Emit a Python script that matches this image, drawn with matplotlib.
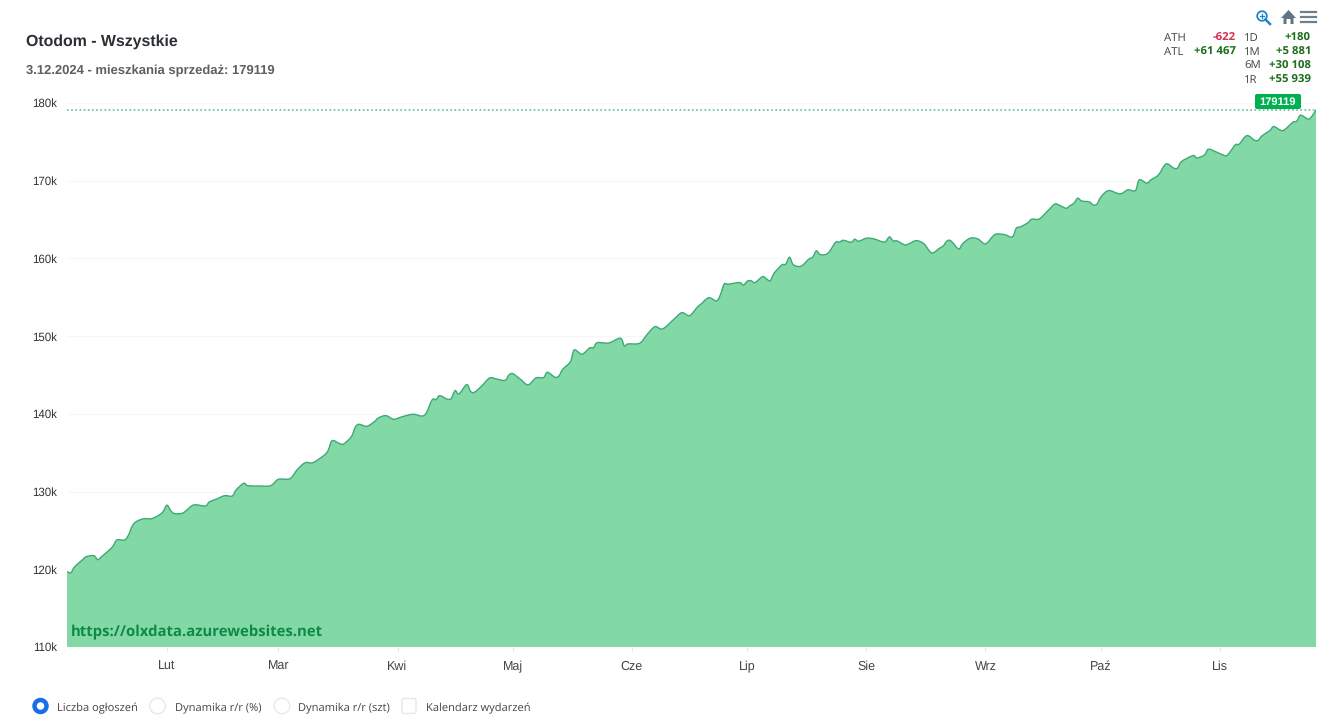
"""Otodom - Wszystkie: liczba ogloszen mieszkan na sprzedaz, 2024."""
import matplotlib
matplotlib.use('Agg')
import matplotlib.pyplot as plt
from matplotlib.patches import Circle, FancyBboxPatch, PathPatch, Polygon
from matplotlib.path import Path

# ── Data (day of year 2024, offers in thousands) ───────────────────────────
DAYS = [6, 7, 8, 10, 11, 13, 14, 15, 17, 18, 19, 21, 22, 23, 24, 26, 28, 30, 31, 32,
        33, 34, 36, 37, 39, 42, 43, 45, 47, 49, 50, 52, 53, 56, 59, 61, 64, 66, 68, 70,
        73, 74, 75, 77, 78, 80, 81, 82, 84, 86, 87, 89, 91, 93, 96, 99, 101, 102, 103, 105,
        106, 107, 108, 110, 111, 112, 114, 116, 118, 120, 121, 122, 124, 126, 128, 130, 131, 133, 134, 135,
        137, 138, 140, 142, 143, 144, 147, 150, 151, 152, 155, 157, 159, 161, 164, 166, 168, 170, 171, 173,
        175, 176, 177, 178, 181, 182, 183, 184, 185, 187, 188, 189, 190, 192, 193, 194, 195, 197, 199, 200,
        201, 202, 204, 206, 207, 208, 210, 211, 212, 214, 216, 218, 219, 220, 221, 222, 224, 225, 227, 229,
        231, 233, 234, 235, 236, 238, 239, 241, 243, 245, 247, 248, 250, 252, 253, 254, 256, 257, 259, 261,
        263, 264, 266, 267, 268, 269, 270, 272, 273, 274, 275, 277, 280, 282, 284, 285, 287, 288, 290, 292,
        294, 295, 296, 299, 300, 302, 303, 305, 307, 308, 310, 311, 313, 315, 316, 317, 319, 320, 322, 323,
        325, 326, 327, 329, 330, 331]
OFFERS = [119.69, 119.56, 120.33, 121.20, 121.62, 121.75, 121.24, 121.62, 122.48, 123.00,
          123.77, 123.77, 124.41, 125.57, 126.13, 126.51, 126.51, 126.99, 127.41, 128.24,
          127.54, 127.16, 127.21, 127.54, 128.28, 128.15, 128.66, 129.05, 129.47, 129.43,
          130.21, 131.07, 130.76, 130.72, 130.76, 131.58, 131.66, 132.87, 133.72, 133.72,
          134.71, 135.35, 136.55, 136.16, 136.13, 137.07, 138.28, 138.66, 138.40, 139.00,
          139.47, 139.77, 139.30, 139.60, 139.95, 139.82, 141.79, 141.83, 142.34, 141.88,
          142.00, 142.99, 142.56, 143.76, 142.91, 142.78, 143.63, 144.62, 144.45, 144.32,
          145.00, 145.17, 144.45, 143.72, 144.62, 144.66, 145.35, 144.71, 144.88, 145.74,
          146.72, 148.22, 147.67, 148.48, 148.52, 149.16, 149.12, 149.73, 148.74, 149.00,
          149.09, 150.24, 151.22, 150.93, 152.21, 153.02, 152.64, 153.72, 154.14, 154.95,
          154.53, 155.30, 156.70, 156.68, 156.89, 156.55, 157.07, 157.14, 156.89, 157.66,
          157.36, 157.14, 158.10, 159.16, 159.25, 160.15, 159.20, 159.00, 159.90, 160.15,
          160.97, 160.49, 160.67, 162.08, 162.08, 162.34, 162.08, 162.47, 162.21, 162.60,
          162.51, 162.16, 162.16, 162.77, 162.25, 162.25, 161.74, 161.87, 162.29, 161.87,
          160.71, 161.31, 161.61, 162.25, 162.25, 161.22, 161.87, 162.60, 162.51, 161.87,
          162.90, 163.15, 163.06, 162.77, 163.89, 164.05, 164.57, 165.04, 165.08, 166.02,
          166.98, 166.89, 166.46, 166.80, 167.10, 167.75, 167.40, 167.27, 166.89, 166.98,
          167.88, 168.73, 168.30, 168.82, 168.73, 170.10, 169.68, 170.10, 170.75, 172.16,
          171.61, 171.65, 172.46, 173.23, 172.93, 173.32, 174.05, 173.71, 173.28, 173.32,
          174.61, 174.70, 175.80, 175.21, 175.21, 175.80, 176.45, 176.96, 176.45, 176.63,
          177.53, 177.66, 178.43, 177.92, 178.34, 179.119]
LAST_VALUE = 179119

MONTH_DAYS = [32, 61, 92, 122, 153, 183, 214, 245, 275, 306]
MONTH_LABELS = ['Lut', 'Mar', 'Kwi', 'Maj', 'Cze', 'Lip', 'Sie', 'Wrz', 'Paź', 'Lis']
Y_TICKS = [110, 120, 130, 140, 150, 160, 170, 180]

STATS_LEFT = [('ATH', '-622', '#d9314f'), ('ATL', '+61 467', '#1b6e1b')]
STATS_RIGHT = [('1D', '+180'), ('1M', '+5 881'), ('6M', '+30 108'), ('1R', '+55 939')]
OPTIONS = ['Liczba ogłoszeń', 'Dynamika r/r (%)', 'Dynamika r/r (szt)', 'Kalendarz wydarzeń']

# ── Style ──────────────────────────────────────────────────────────────────
W, H = 1338, 725
FILL = '#82d9a5'
LINE = '#3fa877'
BADGE = '#00b050'
UI_FONT = 'Open Sans'
ARIAL = 'Liberation Sans'
BASE = 110
plt.rcParams['text.hinting'] = 'no_hinting'


def smooth_verts(xs, ys):
    """Bezier segments through the points, like the smooth curve of the web chart."""
    verts = [(xs[0], ys[0])]
    for i in range(len(xs) - 1):
        i0, i3 = max(i - 1, 0), min(i + 2, len(xs) - 1)
        verts.append((xs[i] + (xs[i + 1] - xs[i0]) / 6, ys[i] + (ys[i + 1] - ys[i0]) / 6))
        verts.append((xs[i + 1] - (xs[i3] - xs[i]) / 6, ys[i + 1] - (ys[i3] - ys[i]) / 6))
        verts.append((xs[i + 1], ys[i + 1]))
    return verts


fig = plt.figure(figsize=(W / 100, H / 100), dpi=100, facecolor='white')
ax = fig.add_axes([67 / W, 1 - 647 / H, (1316 - 67) / W, (647 - 103) / H])

curve = smooth_verts(DAYS, OFFERS)
curve_codes = [Path.MOVETO] + [Path.CURVE4] * (len(curve) - 1)
area = curve + [(DAYS[-1], BASE), (DAYS[0], BASE), curve[0]]
area_codes = curve_codes + [Path.LINETO, Path.LINETO, Path.CLOSEPOLY]
ax.add_patch(PathPatch(Path(area, area_codes), fc=FILL, ec='none', zorder=2))
ax.add_patch(PathPatch(Path(curve, curve_codes), fc='none', ec=LINE, lw=1.0, zorder=3))
ax.axhline(LAST_VALUE / 1000, color='#5fbf8a', lw=1.2, ls=(0, (1, 1.5)), zorder=4)

ax.set_xlim(6, 331)
ax.set_ylim(BASE, 180)
ax.set_yticks(Y_TICKS, [f'{v}k' for v in Y_TICKS], fontfamily=ARIAL, fontsize=8.3, color='#333333')
ax.set_xticks(MONTH_DAYS, MONTH_LABELS, fontfamily=ARIAL, fontsize=9, color='#444444')
ax.tick_params(axis='y', length=0, pad=7)
ax.tick_params(axis='x', length=3, width=0.8, color='#e6e6e6', pad=7)
ax.grid(axis='y', color='#f7f7f7', lw=0.8, zorder=0)
for side in ax.spines.values():
    side.set_visible(False)

# ── Overlay in pixel coordinates: titles, stats, badge, toolbar, options ───
ui = fig.add_axes([0, 0, 1, 1], facecolor='none')
ui.set_xlim(0, W)
ui.set_ylim(H, 0)
ui.axis('off')

ui.text(26, 41.5, 'Otodom - Wszystkie', family=ARIAL, weight='bold', fontsize=11.4,
        color='#2b2f33', va='center')
ui.text(26, 70.5, f'3.12.2024 - mieszkania sprzedaż: {LAST_VALUE}', family=ARIAL, weight='bold',
        fontsize=9.4, color='#5f5f5f', va='center')
ui.text(71, 633, 'https://olxdata.azurewebsites.net', family=UI_FONT, weight='bold',
        fontsize=10.75, color='#0d8a48', va='center')

# stats block
for i, (name, val, col) in enumerate(STATS_LEFT):
    y = 40.5 + i * 14
    ui.text(1164, y, name, family=UI_FONT, fontsize=8.2, color='#444444', va='baseline')
    ui.text(1236, y, val, family=UI_FONT, weight='bold', fontsize=8.2, color=col, va='baseline', ha='right')
for i, (name, val) in enumerate(STATS_RIGHT):
    y = 40.5 + i * 14
    ui.text(1244, y, name, family=UI_FONT, fontsize=8.2, color='#444444', va='baseline')
    ui.text(1311, y, val, family=UI_FONT, weight='bold', fontsize=8.2, color='#1b6e1b', va='baseline', ha='right')

# last value badge
ui.add_patch(FancyBboxPatch((1255, 94), 46, 15, boxstyle='round,pad=0,rounding_size=2',
                            fc=BADGE, ec='none'))
ui.text(1278, 102, str(LAST_VALUE), family=ARIAL, weight='bold', fontsize=8,
        color='white', ha='center', va='center')

# toolbar icons
ui.add_patch(Circle((1262, 16), 4.8, fc='none', ec='#1f86c8', lw=1.3))
ui.plot([1265.5, 1270], [19.5, 24], color='#1f86c8', lw=1.8)
ui.plot([1260, 1264], [16, 16], color='#1f86c8', lw=0.9)
ui.plot([1262, 1262], [14, 18], color='#1f86c8', lw=0.9)
ui.add_patch(Polygon([(1281, 18), (1288.5, 10), (1296, 18), (1293.5, 18), (1293.5, 24),
                      (1290.5, 24), (1290.5, 19), (1286.5, 19), (1286.5, 24), (1283.5, 24),
                      (1283.5, 18)], fc='#5f7486', ec='none'))
for y in (12, 17, 22):
    ui.plot([1301, 1316], [y, y], color='#6e7f8d', lw=1.6)

# options row
ui.add_patch(Circle((40.5, 706), 6, fc='white', ec='#1a6fe8', lw=3.2))
for cx in (157.5, 282):
    ui.add_patch(Circle((cx, 706), 7.8, fc='white', ec='#e8e8e8', lw=1))
ui.add_patch(FancyBboxPatch((402, 698.5), 14, 15, boxstyle='round,pad=0,rounding_size=2',
                            fc='white', ec='#e8e8e8', lw=1))
for x, label in zip((57, 175, 298, 426), OPTIONS):
    ui.text(x, 711, label, family=UI_FONT, fontsize=8.0, color='#444444', va='baseline')

fig.savefig('out.png', dpi=100)
plt.close(fig)
